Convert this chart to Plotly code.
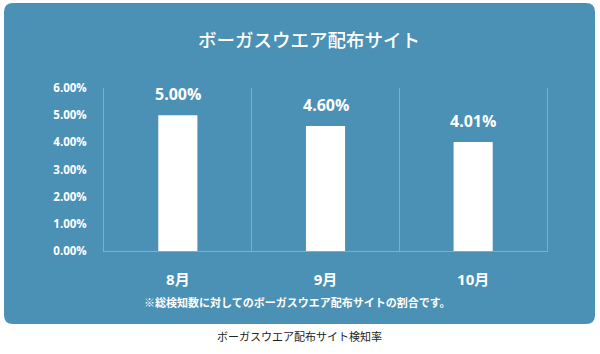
import plotly.graph_objects as go

months = ["8月", "9月", "10月"]
rates = [5.00, 4.60, 4.01]
y_ticks = [0, 1, 2, 3, 4, 5, 6]
y_tick_labels = [f"{v:.2f}%" for v in y_ticks]

title_text = "ボーガスウエア配布サイト"
note_text = "※総検知数に対してのボーガスウエア配布サイトの割合です。"
caption_text = "ボーガスウエア配布サイト検知率"

W, H = 600, 354
L, R, T, B = 104, 53, 88, 103
PW, PH = W - L - R, H - T - B

def px(x):
    return (x - L) / PW

def py(y):
    return (H - B - y) / PH

BLUE = "#4a91b5"
GRID = "rgba(255,255,255,0.28)"
FONT = "Open Sans, Noto Sans CJK JP, sans-serif"
JFONT = "Noto Sans CJK JP, sans-serif"

fig = go.Figure()
fig.add_trace(go.Bar(x=months, y=rates, marker=dict(color="white", line=dict(width=0)),
                     hoverinfo="skip"))

# rounded background panel
x0, x1, y0, y1, r = 4, 595, 3, 324, 9
path = (f"M {px(x0+r)},{py(y0)} L {px(x1-r)},{py(y0)} Q {px(x1)},{py(y0)} {px(x1)},{py(y0+r)} "
        f"L {px(x1)},{py(y1-r)} Q {px(x1)},{py(y1)} {px(x1-r)},{py(y1)} "
        f"L {px(x0+r)},{py(y1)} Q {px(x0)},{py(y1)} {px(x0)},{py(y1-r)} "
        f"L {px(x0)},{py(y0+r)} Q {px(x0)},{py(y0)} {px(x0+r)},{py(y0)} Z")
fig.add_shape(type="path", path=path, xref="paper", yref="paper",
              fillcolor=BLUE, line=dict(width=0), layer="below")

annotations = []
for m, v in zip(months, rates):
    annotations.append(dict(x=m, y=v, xref="x", yref="y", text=f"{v:.2f}%", showarrow=False,
                            yanchor="bottom", yshift=8,
                            font=dict(family=FONT, size=16, color="white", weight="bold")))
annotations.append(dict(x=px(297), y=py(302), xref="paper", yref="paper", text=note_text,
                        showarrow=False, xanchor="center", yanchor="middle",
                        font=dict(family=JFONT, size=11, color="white", weight="bold")))
annotations.append(dict(x=px(299), y=py(336), xref="paper", yref="paper", text=caption_text,
                        showarrow=False, xanchor="center", yanchor="middle",
                        font=dict(family=JFONT, size=11, color="#222222")))

fig.update_layout(
    width=W, height=H, autosize=False,
    margin=dict(l=L, r=R, t=T, b=B, pad=0),
    paper_bgcolor="white", plot_bgcolor="rgba(0,0,0,0)",
    bargap=0.735, showlegend=False,
    title=dict(text=title_text, x=309 / W, xanchor="center", y=1 - 41 / H, yanchor="middle",
               xref="container", yref="container",
               font=dict(family=JFONT, size=18.5, color="white", weight=500)),
    xaxis=dict(type="category", tickson="boundaries", showgrid=True, gridcolor=GRID, gridwidth=1,
               showline=True, linecolor=GRID, linewidth=1, ticks="", ticklabelstandoff=15,
               tickfont=dict(family=FONT, size=15, color="white", weight="bold"),
               zeroline=False),
    yaxis=dict(range=[0, 6], tickmode="array", tickvals=y_ticks, ticktext=y_tick_labels,
               showgrid=False, zeroline=False, showline=True, mirror=True,
               linecolor=GRID, linewidth=1, ticks="", ticklabelstandoff=14,
               tickfont=dict(family=FONT, size=11.5, color="white", weight="bold")),
    annotations=annotations,
)

fig.write_html("out.html")
